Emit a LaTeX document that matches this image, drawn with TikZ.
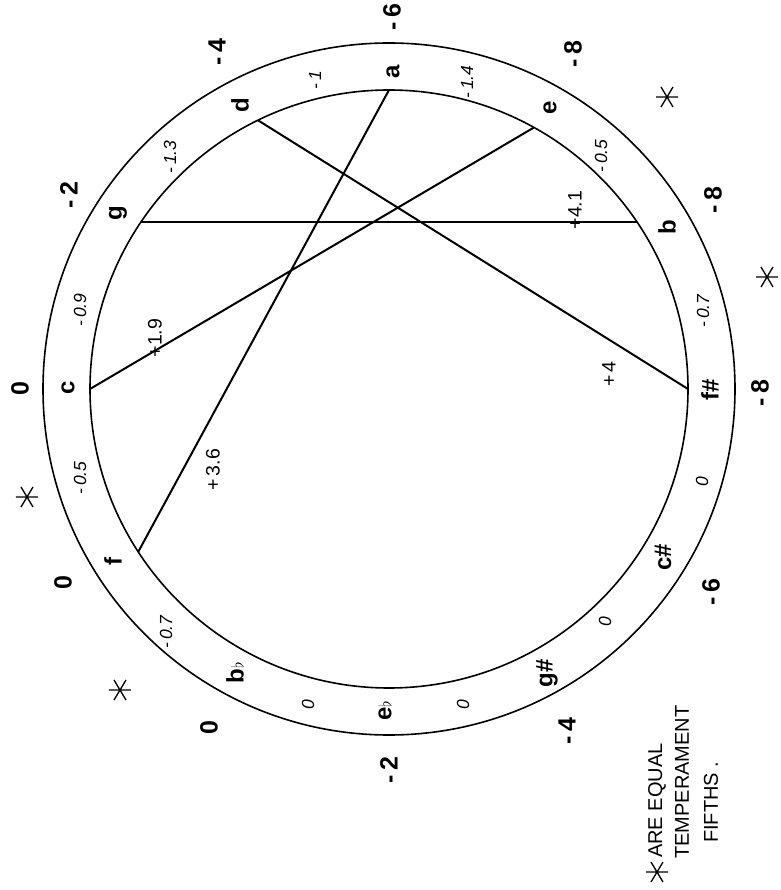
\documentclass[tikz,border=0pt]{standalone}
\usepackage{fontspec}
\setmainfont{Liberation Sans}
\tikzset{
  notelab/.style={font=\fontsize{24}{26}\selectfont\bfseries, rotate=90, inner sep=0pt},
  outnum/.style={font=\fontsize{25}{27}\selectfont\bfseries, rotate=90, inner sep=0pt},
  ringnum/.style={font=\fontsize{17.5}{19}\selectfont\itshape, rotate=90, inner sep=0pt},
  linelab/.style={font=\fontsize{19.5}{21}\selectfont, rotate=90, inner sep=0pt},
  handnote/.style={font=\fontsize{20}{22}\selectfont, rotate=90, inner sep=0pt, anchor=west},
  ringline/.style={line width=1.6pt},
  chord/.style={line width=2pt},
  astx/.pic={\draw[line width=1.3pt] (-11pt,0pt)--(11pt,0pt) (-6pt,-10pt)--(6pt,10pt) (-6pt,10pt)--(6pt,-10pt);}
}
\newcommand{\flt}{{\fontsize{19}{19}\selectfont$\flat$}}
\begin{document}
\begin{tikzpicture}[x=1pt,y=1pt]
\useasboundingbox (-389,-501) rectangle (391,389);
\fill[white] (-389,-501) rectangle (391,389);
% circles
\draw[ringline] (0,0) circle (346pt);
\draw[ringline] (0,0) circle (299pt);
% chord end points on inner circle
\coordinate (Pa) at (90:299pt);
\coordinate (Pf) at (213:299pt);
\coordinate (Pd) at (116:299pt);
\coordinate (Pfs) at (0:299pt);
\coordinate (Pg) at (146:299pt);
\coordinate (Pb) at (34:299pt);
\coordinate (Pc) at (180:299pt);
\coordinate (Pe) at (61:299pt);
\draw[chord] (Pa) -- (Pf);
\draw[chord] (Pd) -- (Pfs);
\draw[chord] (Pg) -- (Pb);
\draw[chord] (Pc) -- (Pe);
% note names
\node[notelab] (nc)  at (-321,1) {c};
\node[notelab] (ng)  at (-271,176) {g};
\node[notelab] (nd)  at (-149,284) {d};
\node[notelab] (na)  at (4,317) {a};
\node[notelab] (ne)  at (161,281) {e};
\node[notelab] (nb)  at (278,162) {b};
\node[notelab] (nfs) at (321,-1) {f\#};
\node[notelab] (ncs) at (274,-168) {c\#};
\node[notelab] (ngs) at (158,-284) {g\#};
\node[notelab] (neb) at (-4,-322) {e\flt};
\node[notelab] (nbb) at (-154,-284) {b\flt};
\node[notelab] (nf)  at (-276,-173) {f};
% ring numbers
\node[ringnum] (r1) at (-309,79) {-\,0.9};
\node[ringnum] (r2) at (-219,232) {-\,1.3};
\node[ringnum] (r3) at (-74,309) {-\,1};
\node[ringnum] (r4) at (78,307) {-\,1.4};
\node[ringnum] (r5) at (212,233) {-\,0.5};
\node[ringnum] (r6) at (314,78) {-\,0.7};
\node[ringnum] (r7) at (313,-93) {0};
\node[ringnum] (r8) at (216,-233) {0};
\node[ringnum] (r9) at (74,-316) {0};
\node[ringnum] (r10) at (-81,-316) {0};
\node[ringnum] (r11) at (-223,-243) {-\,0.7};
\node[ringnum] (r12) at (-309,-89) {-\,0.5};
% outer numbers
\node[outnum] (oc)  at (-369,0) {0};
\node[outnum] (og)  at (-320,194) {-\,2};
\node[outnum] (od)  at (-172,337) {-\,4};
\node[outnum] (oa)  at (3,372) {-\,6};
\node[outnum] (oe)  at (184,335) {-\,8};
\node[outnum] (ob)  at (324,189) {-\,8};
\node[outnum] (ofs) at (371,-4) {-\,8};
\node[outnum] (ocs) at (322,-203) {-\,6};
\node[outnum] (ogs) at (178,-342) {-\,4};
\node[outnum] (oeb) at (0,-381) {-\,2};
\node[outnum] (obb) at (-180,-339) {0};
\node[outnum] (of)  at (-326,-194) {0};
% asterisks
\pic at (-362,-108) {astx};
\pic at (-269,-301) {astx};
\pic at (278,292) {astx};
\pic at (378,112) {astx};
% chord labels
\node[linelab] (l36) at (-176,-81) {+\,3.6};
\node[linelab] (l19) at (-234,51) {+1.9};
\node[linelab] (l41) at (186,179) {+4.1};
\node[linelab] (l4)  at (220,15) {+\,4};
% handwritten note
\pic at (268,-483) {astx};
\node[handnote] (h1) at (268,-469) {ARE EQUAL};
\node[handnote] (h2) at (293,-470) {TEMPERAMENT};
\node[handnote] (h3) at (322,-454) {FIFTHS .};
\end{tikzpicture}
\end{document}
